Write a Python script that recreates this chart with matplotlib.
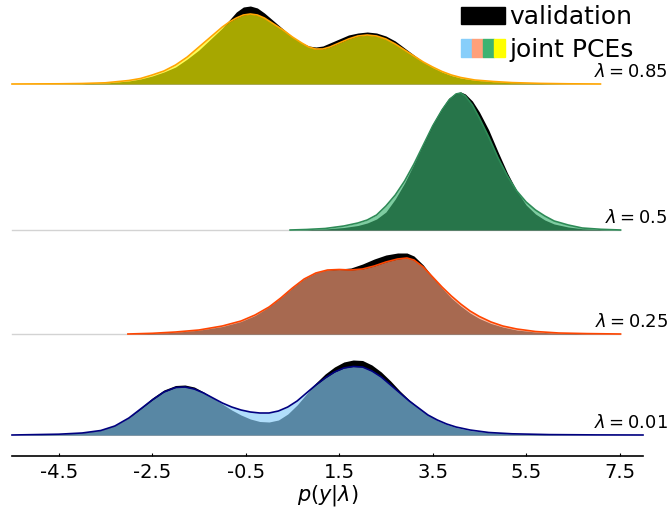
import matplotlib
matplotlib.use("Agg")
import matplotlib.pyplot as plt
from matplotlib.patches import Patch
from matplotlib.legend_handler import HandlerTuple

# lambda levels, top to bottom
lambdas = ["0.85", "0.5", "0.25", "0.01"]

# densities (arbitrary units, same for every ridge)
# lambda = 0.85
x_085 = [-5.5, -4.5, -4.0, -3.5, -3.0, -2.75, -2.5, -2.25, -2.0, -1.75, -1.5, -1.25, -1.0, -0.85,
         -0.7, -0.55, -0.4, -0.25, -0.1, 0.1, 0.3, 0.5, 0.7, 0.85, 1.0, 1.15, 1.3, 1.5, 1.7, 1.9,
         2.1, 2.3, 2.5, 2.7, 2.9, 3.1, 3.3, 3.5, 3.7, 3.9, 4.1, 4.4, 4.8, 5.2, 5.8, 6.4, 7.09]
pce_085 = [0, 0.2, 0.5, 1.2, 3.5, 5.5, 9, 13, 19, 27, 37, 47, 57, 62,
           66, 69, 70, 69, 66, 60, 54, 47, 41, 37, 35, 35, 37, 41, 45, 48,
           49, 48, 45, 40, 34, 28, 22, 17, 12.5, 9, 6.5, 4, 2.5, 1.4, 0.6, 0.2, 0]
val_085 = [0, 0.2, 0.4, 1, 3, 5, 8, 12, 17, 25, 34, 45, 56, 64,
           72, 77, 78, 76, 71, 63, 55, 47, 41, 38, 37, 38, 41, 45, 49, 51,
           52, 51, 48, 43, 36, 29, 22, 16.5, 12, 8.5, 6, 3.8, 2.3, 1.3, 0.5, 0.2, 0]

# lambda = 0.5
x_05 = [0.45, 0.8, 1.2, 1.6, 1.9, 2.1, 2.3, 2.5, 2.7, 2.9, 3.1, 3.3, 3.5, 3.7, 3.85, 4.0,
        4.1, 4.2, 4.35, 4.5, 4.7, 4.9, 5.1, 5.3, 5.5, 5.7, 5.9, 6.1, 6.4, 6.7, 7.1, 7.52]
pce_05 = [0, 0.5, 1.5, 4, 7, 10, 15, 24, 35, 49, 66, 85, 104, 120, 130, 136,
          137, 134, 125, 112, 93, 72, 54, 39, 28, 20, 14, 9, 5, 2, 0.7, 0]
val_05 = [0, 0.3, 1, 2.5, 4.5, 7, 11, 18, 31, 47, 66, 86, 106, 122, 132, 137,
          138, 136, 129, 118, 100, 78, 57, 39, 25, 16, 10, 6, 3, 1.3, 0.4, 0]

# lambda = 0.25
x_025 = [-3.02, -2.5, -2.0, -1.5, -1.0, -0.6, -0.3, 0.0, 0.25, 0.5, 0.75, 1.0, 1.25, 1.5,
         1.75, 2.0, 2.25, 2.5, 2.75, 2.95, 3.1, 3.3, 3.5, 3.7, 3.9, 4.1, 4.3, 4.5, 4.75,
         5.0, 5.3, 5.7, 6.2, 6.8, 7.52]
pce_025 = [0, 0.7, 2, 4, 8, 13, 19, 27, 36, 46, 55, 61, 64, 64.5,
           64, 65, 68, 72, 75, 76, 74, 67, 57, 47, 38, 30, 23, 17.5, 12,
           8, 5, 2.5, 1, 0.4, 0]
val_025 = [0, 0.6, 1.8, 3.8, 7.5, 12.5, 18.5, 27, 36, 46, 55, 61, 64, 65,
           66, 70, 75, 79, 81, 81, 78, 69, 57, 46, 36, 28, 21, 15.5, 10.5,
           7, 4, 2, 0.8, 0.3, 0]

# lambda = 0.01
x_001 = [-5.5, -4.5, -4.0, -3.6, -3.3, -3.0, -2.75, -2.5, -2.25, -2.0, -1.8, -1.6, -1.4, -1.2,
         -1.0, -0.8, -0.6, -0.4, -0.2, 0.0, 0.2, 0.4, 0.6, 0.8, 1.0, 1.2, 1.4, 1.6, 1.8, 2.0,
         2.2, 2.4, 2.6, 2.8, 3.0, 3.2, 3.4, 3.6, 3.8, 4.0, 4.3, 4.7, 5.2, 6.0, 7.0, 8.0]
pce_001 = [0, 0.8, 2, 4.5, 9, 17, 26, 35, 43, 47.5, 48, 46, 42, 37,
           32, 28, 25, 23, 22, 22, 24, 28, 34, 42, 50, 57, 63, 67, 68.5, 68,
           64, 58, 50, 42, 34, 27, 20, 15, 11, 8, 5, 2.5, 1.2, 0.4, 0.1, 0]
val_001 = [0, 0.8, 2, 4.5, 9, 17, 27, 37, 45, 49.5, 50, 48, 43, 37,
           31, 25, 20, 16, 13.5, 13, 15, 21, 30, 41, 52, 61, 68, 73, 75, 74.5,
           70, 63, 54, 44, 35, 27, 20, 14.5, 10.5, 7.5, 4.5, 2.3, 1.1, 0.4, 0.1, 0]

xs = [x_085, x_05, x_025, x_001]
pces = [pce_085, pce_05, pce_025, pce_001]
vals = [val_085, val_05, val_025, val_001]

fills = ["yellow", "mediumseagreen", "lightsalmon", "lightskyblue"]
edges = ["orange", "seagreen", "orangered", "navy"]

xticks = [-4.5, -2.5, -0.5, 1.5, 3.5, 5.5, 7.5]

W, H = 670, 513
fig = plt.figure(figsize=(6.7, 5.13), dpi=100)

baselines = [84, 230, 334, 435]   # pixel rows of each ridge baseline
left, right = 12, 643

for i in range(4):
    b = baselines[i]
    bottom = b
    lo = 0.0
    if i == 3:
        bottom = 456
        lo = -(456 - b)
    top = b - 150
    ax = fig.add_axes([left / W, (H - bottom) / H, (right - left) / W, (bottom - top) / H])
    ax.patch.set_alpha(0)
    ax.set_xlim(-5.5, 8.0)
    ax.set_ylim(lo, 150)
    if i in (1, 2):
        ax.plot([-5.5, 7.5], [0, 0], color="lightgray", lw=1, zorder=0, clip_on=False)
    ax.fill_between(xs[i], vals[i], color="black", lw=0, zorder=1)
    ax.fill_between(xs[i], pces[i], color=fills[i], alpha=0.66, lw=0, zorder=2)
    ax.plot(xs[i], pces[i], color=edges[i], lw=1.2, zorder=3, clip_on=False)
    ax.set_yticks([])
    for s in ["top", "left", "right"]:
        ax.spines[s].set_visible(False)
    if i < 3:
        ax.spines["bottom"].set_visible(False)
        ax.set_xticks([])
    else:
        ax.spines["bottom"].set_linewidth(1.2)
        ax.set_xticks(xticks)
        ax.set_xticklabels([str(t) for t in xticks])
        ax.tick_params(axis="x", direction="in", length=2, labelsize=14, pad=5)
        ax.set_xlabel(r"$p(y|\lambda)$", fontsize=15, labelpad=1)
    fig.text(668 / W, (H - b + 3) / H, r"$\lambda = %s$" % lambdas[i],
             ha="right", va="bottom", fontsize=13)

handles = [Patch(color="black"),
           tuple(Patch(color=c) for c in ["lightskyblue", "lightsalmon", "mediumseagreen", "yellow"])]
fig.legend(handles, ["validation", "joint PCEs"],
           handler_map={tuple: HandlerTuple(ndivide=None, pad=0)},
           loc="upper left", bbox_to_anchor=(456 / W, 1.0), frameon=False, borderaxespad=0,
           fontsize=18, handlelength=1.75, handleheight=0.7, handletextpad=0.2,
           borderpad=0.2, labelspacing=0.35)

plt.savefig("out.png", dpi=100)
